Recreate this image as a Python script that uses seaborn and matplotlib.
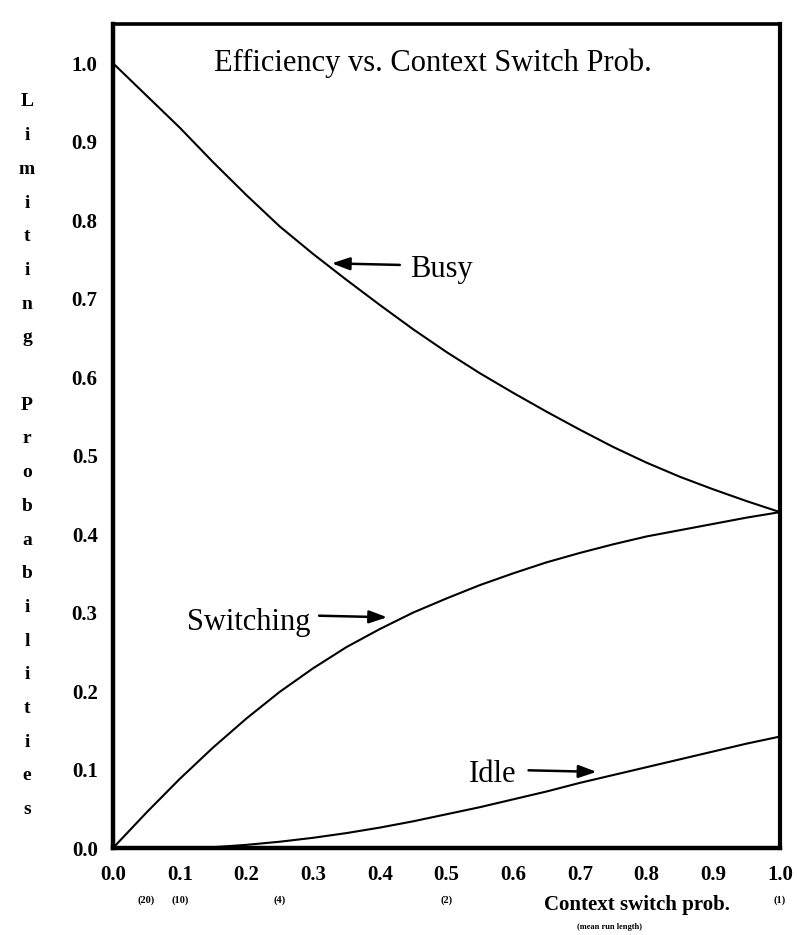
import numpy as np
import pandas as pd
import matplotlib
matplotlib.use("Agg")
import matplotlib.pyplot as plt
import matplotlib.transforms as mtransforms
import seaborn as sns

# ---------------- data ----------------
ctx_prob = [0.00, 0.05, 0.10, 0.15, 0.20, 0.25, 0.30, 0.35, 0.40, 0.45, 0.50,
            0.55, 0.60, 0.65, 0.70, 0.75, 0.80, 0.85, 0.90, 0.95, 1.00]
busy = [1.000, 0.959, 0.918, 0.874, 0.832, 0.792, 0.757, 0.724, 0.692, 0.661, 0.632,
        0.605, 0.580, 0.556, 0.533, 0.511, 0.491, 0.473, 0.457, 0.442, 0.428]
switching = [0.000, 0.045, 0.088, 0.128, 0.165, 0.199, 0.229, 0.256, 0.279, 0.300, 0.318,
             0.335, 0.350, 0.364, 0.376, 0.387, 0.397, 0.405, 0.413, 0.421, 0.428]
idle = [0.000, 0.000, 0.000, 0.001, 0.004, 0.008, 0.013, 0.019, 0.026, 0.034, 0.043,
        0.052, 0.062, 0.072, 0.083, 0.093, 0.103, 0.113, 0.123, 0.133, 0.142]

x_ticks = [0.0, 0.1, 0.2, 0.3, 0.4, 0.5, 0.6, 0.7, 0.8, 0.9, 1.0]
x_tick_labels = ["0.0", "0.1", "0.2", "0.3", "0.4", "0.5", "0.6", "0.7", "0.8", "0.9", "1.0"]
y_ticks = [0.0, 0.1, 0.2, 0.3, 0.4, 0.5, 0.6, 0.7, 0.8, 0.9, 1.0]
y_tick_labels = ["0.0", "0.1", "0.2", "0.3", "0.4", "0.5", "0.6", "0.7", "0.8", "0.9", "1.0"]
run_len_pos = [0.05, 0.10, 0.25, 0.50, 1.00]
run_len_labels = ["(20)", "(10)", "(4)", "(2)", "(1)"]

title = "Efficiency vs. Context Switch Prob."
ylabel_text = "Limiting Probabilities"
xlabel_text = "Context switch prob."
xlabel_sub = "(mean run length)"

# ---------------- style ----------------
sns.set_theme(style="white")
plt.rcParams["font.family"] = ["Liberation Serif", "DejaVu Serif"]
plt.rcParams["text.color"] = "black"
plt.rcParams["xtick.color"] = "black"
plt.rcParams["ytick.color"] = "black"

W, H = 797, 935
fig = plt.figure(figsize=(W / 100, H / 100), dpi=100)
ax = fig.add_axes([113 / W, 1 - 848 / H, (780 - 113) / W, (848 - 24) / H])

df = pd.DataFrame({
    "p": ctx_prob * 3,
    "value": busy + switching + idle,
    "state": ["Busy"] * len(ctx_prob) + ["Switching"] * len(ctx_prob) + ["Idle"] * len(ctx_prob),
})
sns.lineplot(data=df, x="p", y="value", hue="state",
             palette=["black", "black", "black"], legend=False,
             linewidth=1.5, ax=ax, sort=True)

ax.set_xlim(0, 1.0)
ax.set_ylim(0, 1.05)
ax.set_xticks(x_ticks)
ax.set_xticklabels(x_tick_labels, fontsize=15, fontweight="bold")
ax.set_yticks(y_ticks)
ax.set_yticklabels(y_tick_labels, fontsize=15, fontweight="bold")
ax.tick_params(axis="x", direction="in", length=7, width=2.2, pad=12, colors="black")
ax.tick_params(axis="y", direction="out", length=5, width=2.2, pad=6, colors="black")
ax.set_xlabel("")
ax.set_ylabel("")

for side, lw in (("left", 3.2), ("bottom", 3.2), ("top", 2.6), ("right", 3.0)):
    ax.spines[side].set_visible(True)
    ax.spines[side].set_linewidth(lw)
    ax.spines[side].set_color("black")

# title inside the box
ax.text(0.48, 0.99, title, ha="center", va="baseline", fontsize=22, color="black")

# annotations
arrow_kw = dict(arrowstyle="-|>,head_length=0.9,head_width=0.32", lw=1.8,
                color="black", shrinkA=0, shrinkB=0)
ax.annotate("", xy=(0.328, 0.745), xytext=(0.430, 0.743), arrowprops=arrow_kw)
ax.text(0.445, 0.727, "Busy", ha="left", va="baseline", fontsize=22, color="black")

ax.annotate("", xy=(0.411, 0.294), xytext=(0.309, 0.296), arrowprops=arrow_kw)
ax.text(0.296, 0.278, "Switching", ha="right", va="baseline", fontsize=22, color="black")

ax.annotate("", xy=(0.725, 0.097), xytext=(0.623, 0.099), arrowprops=arrow_kw)
ax.text(0.534, 0.084, "Idle", ha="left", va="baseline", fontsize=22, color="black")

# run-length sub labels below ticks
trans = mtransforms.blended_transform_factory(ax.transData, ax.transAxes)
for pos, lab in zip(run_len_pos, run_len_labels):
    ax.text(pos, (848 - 900) / 824, lab, transform=trans, ha="center", va="center",
            fontsize=7.5, fontweight="bold", color="black")

ax.text(0.786, (848 - 905) / 824, xlabel_text, transform=trans, ha="center",
        va="center", fontsize=15, fontweight="bold", color="black")
ax.text(0.745, (848 - 927) / 824, xlabel_sub, transform=trans, ha="center",
        va="center", fontsize=6, fontweight="bold", color="black")

# stacked y label letters
letters = list(ylabel_text)
for i, ch in enumerate(letters):
    if ch == " ":
        continue
    ypx = 102 + i * 33.7
    fig.text(27 / W, 1 - ypx / H, ch, ha="center", va="center",
             fontsize=14, fontweight="bold", color="black")

fig.savefig("out.png", dpi=100, facecolor="white")
